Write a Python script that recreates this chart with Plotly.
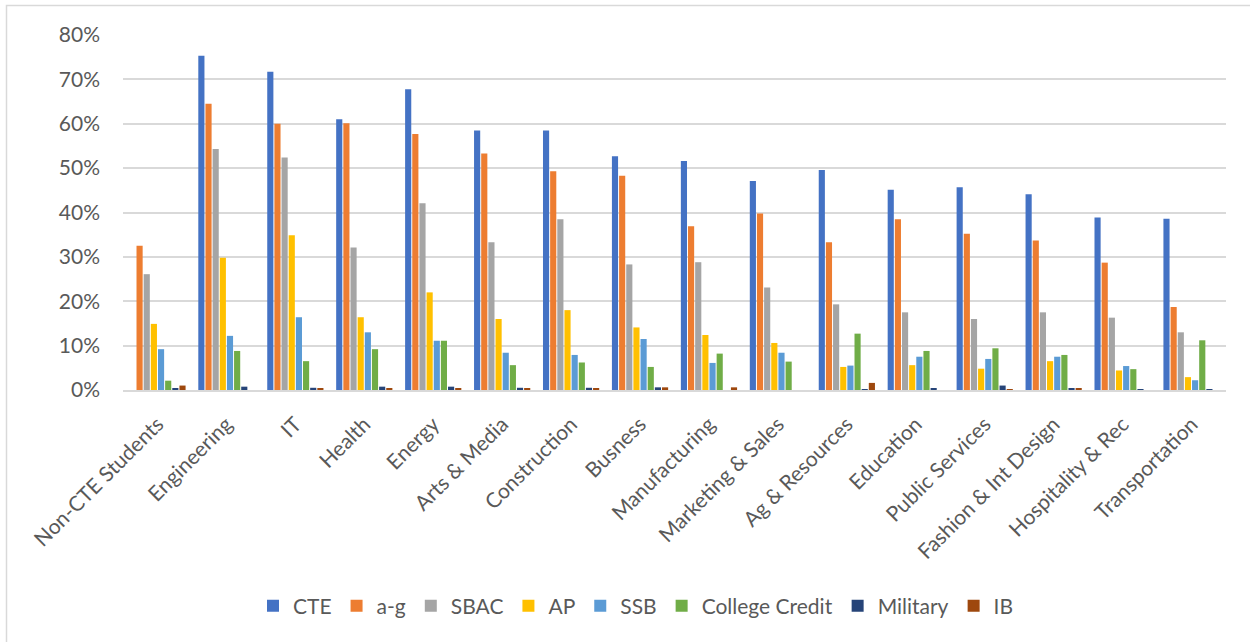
import plotly.graph_objects as go

categories = ["Non-CTE Students", "Engineering", "IT", "Health", "Energy",
              "Arts & Media", "Construction", "Busness", "Manufacturing",
              "Marketing & Sales", "Ag & Resources", "Education",
              "Public Services", "Fashion & Int Design", "Hospitality & Rec",
              "Transportation"]

cte = [0, 75.3, 71.7, 61.0, 67.8, 58.5, 58.5, 52.7, 51.6, 47.1, 49.6, 45.1, 45.7, 44.1, 38.9, 38.6]
a_g = [32.5, 64.5, 60.0, 60.1, 57.7, 53.3, 49.3, 48.3, 36.9, 39.8, 33.3, 38.5, 35.2, 33.7, 28.7, 18.7]
sbac = [26.1, 54.3, 52.4, 32.1, 42.1, 33.3, 38.5, 28.3, 28.8, 23.1, 19.3, 17.5, 16.0, 17.5, 16.3, 13.0]
ap = [14.9, 29.8, 34.9, 16.4, 22.0, 16.0, 18.0, 14.1, 12.4, 10.6, 5.2, 5.6, 4.8, 6.5, 4.4, 2.9]
ssb = [9.2, 12.2, 16.4, 13.0, 11.1, 8.4, 7.9, 11.5, 6.1, 8.4, 5.5, 7.5, 7.0, 7.5, 5.4, 2.2]
college_credit = [2.1, 8.8, 6.5, 9.2, 11.1, 5.6, 6.2, 5.2, 8.2, 6.4, 12.7, 8.8, 9.4, 7.9, 4.7, 11.2]
military = [0.45, 0.75, 0.5, 0.75, 0.75, 0.5, 0.5, 0.6, 0, 0, 0.1, 0.45, 1.0, 0.25, 0.2, 0.2]
ib = [1.0, 0, 0.45, 0.3, 0.4, 0.3, 0.45, 0.6, 0.6, 0, 1.6, 0, 0.2, 0.45, 0, 0]

series = [
    ("CTE", cte, "#4472C4"),
    ("a-g", a_g, "#ED7D31"),
    ("SBAC", sbac, "#A5A5A5"),
    ("AP", ap, "#FFC000"),
    ("SSB", ssb, "#5B9BD5"),
    ("College Credit", college_credit, "#70AD47"),
    ("Military", military, "#264478"),
    ("IB", ib, "#9E480E"),
]

FONT = "Lato, 'Open Sans', sans-serif"
TEXT = "#595959"
GRID = "#D9D9D9"

fig = go.Figure()
for name, vals, color in series:
    fig.add_trace(go.Bar(x=categories, y=vals, name=name, showlegend=False,
                         marker=dict(color=color, line=dict(width=0))))
# square swatches for the legend
for name, vals, color in series:
    fig.add_trace(go.Scatter(x=[None], y=[None], mode="markers", name=name,
                             marker=dict(symbol="square", size=12, color=color)))

# plot area in pixels: left 123, right 1226, top 35, bottom 390
L, R, T, B = 123, 1226, 35, 390
W, H = R - L, B - T

def px_x(p):
    return (p - L) / W

def px_y(p):
    return (B - p) / H

fig.update_layout(
    width=1250, height=642,
    margin=dict(l=L, r=1250 - R, t=T, b=642 - B, autoexpand=False),
    paper_bgcolor="white", plot_bgcolor="white",
    barmode="group", bargap=0.17, bargroupgap=0.14,
    font=dict(family=FONT, size=21, color=TEXT),
    showlegend=True,
    legend=dict(orientation="h", x=px_x(636), xanchor="center",
                y=px_y(606), yanchor="middle",
                font=dict(family=FONT, size=21, color=TEXT),
                itemwidth=30, tracegroupgap=0, bgcolor="rgba(0,0,0,0)"),
    xaxis=dict(tickangle=-45, showgrid=False, ticks="",
               showline=True, linecolor=GRID, linewidth=1.5,
               tickfont=dict(family=FONT, size=21, color=TEXT),
               ticklabelstandoff=12),
    yaxis=dict(range=[0, 80], dtick=10, ticksuffix="%",
               showgrid=True, gridcolor=GRID, gridwidth=1.5,
               zeroline=False, showline=False, ticks="",
               tickfont=dict(family=FONT, size=21, color=TEXT),
               ticklabelstandoff=22),
    shapes=[dict(type="rect", xref="paper", yref="paper",
                 x0=px_x(6.5), x1=px_x(1262), y0=px_y(655), y1=px_y(5.5),
                 line=dict(color=GRID, width=1.5), fillcolor="rgba(0,0,0,0)",
                 layer="below")],
)

fig.write_html("out.html")
